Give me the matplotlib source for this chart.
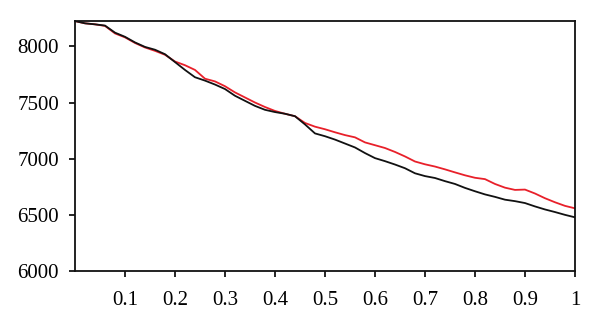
import matplotlib
matplotlib.use("Agg")
import matplotlib.pyplot as plt

x_vals = [0.00, 0.02, 0.04, 0.06, 0.08, 0.10, 0.12, 0.14, 0.16, 0.18,
          0.20, 0.22, 0.24, 0.26, 0.28, 0.30, 0.32, 0.34, 0.36, 0.38,
          0.40, 0.42, 0.44, 0.46, 0.48, 0.50, 0.52, 0.54, 0.56, 0.58,
          0.60, 0.62, 0.64, 0.66, 0.68, 0.70, 0.72, 0.74, 0.76, 0.78,
          0.80, 0.82, 0.84, 0.86, 0.88, 0.90, 0.92, 0.94, 0.96, 0.98, 1.00]

black_series = [8225, 8205, 8196, 8185, 8122, 8085, 8035, 7995, 7970, 7930,
                7860, 7790, 7725, 7695, 7660, 7620, 7560, 7515, 7470, 7435,
                7415, 7400, 7378, 7305, 7225, 7200, 7170, 7135, 7100, 7050,
                7005, 6978, 6948, 6915, 6870, 6845, 6828, 6800, 6775, 6740,
                6710, 6682, 6660, 6635, 6622, 6605, 6575, 6548, 6525, 6500, 6478]

red_series = [8225, 8205, 8196, 8182, 8115, 8080, 8030, 7990, 7960, 7925,
              7865, 7832, 7790, 7712, 7688, 7645, 7590, 7545, 7500, 7460,
              7425, 7400, 7378, 7318, 7285, 7262, 7235, 7210, 7190, 7145,
              7120, 7095, 7060, 7020, 6975, 6950, 6930, 6905, 6878, 6852,
              6830, 6818, 6775, 6742, 6722, 6725, 6690, 6648, 6612, 6580, 6558]

x_ticks = [0.1, 0.2, 0.3, 0.4, 0.5, 0.6, 0.7, 0.8, 0.9, 1.0]
x_tick_labels = ["0.1", "0.2", "0.3", "0.4", "0.5", "0.6", "0.7", "0.8", "0.9", "1"]
y_ticks = [6000, 6500, 7000, 7500, 8000]
y_tick_labels = ["6000", "6500", "7000", "7500", "8000"]

plt.rcParams['font.family'] = ['Liberation Serif', 'DejaVu Serif']
plt.rcParams['font.size'] = 15

fig = plt.figure(figsize=(6.0, 3.32), dpi=100)
ax = fig.add_axes([0.125, 0.1837, 0.8333, 0.7545])

ax.plot(x_vals, red_series, color="#e8202a", lw=1.3)
ax.plot(x_vals, black_series, color="#111111", lw=1.3)

ax.set_xlim(0, 1)
ax.set_ylim(6000, 8230)
ax.set_xticks(x_ticks)
ax.set_xticklabels(x_tick_labels, fontsize=15)
ax.set_yticks(y_ticks)
ax.set_yticklabels(y_tick_labels, fontsize=15)

ax.tick_params(axis="x", direction="out", length=4.5, width=1.2, pad=10)
ax.tick_params(axis="y", direction="out", length=4.5, width=1.2, pad=7)
for s in ax.spines.values():
    s.set_linewidth(1.3)
    s.set_color("#111111")

fig.savefig("out.png", dpi=100)
